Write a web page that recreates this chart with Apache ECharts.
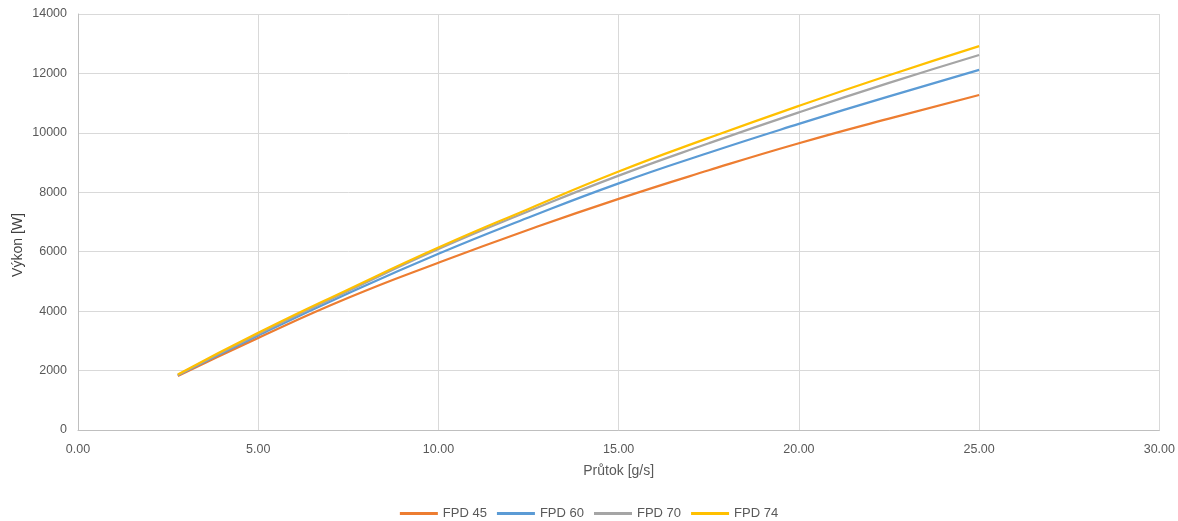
<!DOCTYPE html>
<html>
<head>
<meta charset="utf-8">
<script src="https://cdn.jsdelivr.net/npm/echarts@6/dist/echarts.min.js"></script>
<style>html,body{margin:0;padding:0;background:#fff;}#c{width:1178px;height:521px;}</style>
</head>
<body>
<div id="c"></div>
<script>
const flow = [2.77, 5, 7.5, 10, 12.5, 15, 17.5, 20, 22.5, 25];
const fpd45 = [1820, 3100, 4450, 5630, 6740, 7780, 8740, 9650, 10480, 11275];
const fpd60 = [1840, 3180, 4600, 5930, 7150, 8300, 9330, 10300, 11230, 12120];
const fpd70 = [1850, 3230, 4680, 6090, 7360, 8560, 9650, 10690, 11680, 12620];
const fpd74 = [1870, 3270, 4730, 6140, 7440, 8700, 9830, 10910, 11940, 12920];
const seriesNames = ['FPD 45', 'FPD 60', 'FPD 70', 'FPD 74'];
const seriesData = [fpd45, fpd60, fpd70, fpd74];
const colors = ['#ED7D31', '#5B9BD5', '#A5A5A5', '#FFC000'];

const font = 'Liberation Sans';
const chart = echarts.init(document.getElementById('c'), null, {renderer: 'canvas'});
chart.setOption({
  animation: false,
  color: colors,
  textStyle: {fontFamily: font},
  grid: {left: 78, right: 12, top: 14, bottom: 91, containLabel: false},
  legend: {
    bottom: -4, left: 'center',
    itemWidth: 38, itemHeight: 3, itemGap: 10,
    icon: 'rect',
    textStyle: {color: '#595959', fontSize: 13, fontFamily: font},
    data: seriesNames
  },
  xAxis: {
    type: 'value', min: 0, max: 30, interval: 5,
    name: 'Průtok [g/s]', nameLocation: 'middle', nameGap: 34,
    nameTextStyle: {color: '#595959', fontSize: 14, fontFamily: font},
    axisLine: {show: true, lineStyle: {color: '#bfbfbf'}},
    axisTick: {show: false},
    axisLabel: {color: '#595959', fontSize: 12.5, margin: 13, formatter: v => v.toFixed(2)},
    splitLine: {show: true, lineStyle: {color: '#d9d9d9'}}
  },
  yAxis: {
    type: 'value', min: 0, max: 14000, interval: 2000,
    axisLine: {show: true, lineStyle: {color: '#bfbfbf'}},
    axisTick: {show: false},
    axisLabel: {color: '#595959', fontSize: 12.5, margin: 11, formatter: v => String(v)},
    splitLine: {show: true, lineStyle: {color: '#d9d9d9'}}
  },
  graphic: [{
    type: 'text', rotation: Math.PI / 2,
    x: 18, y: 245,
    style: {text: 'Výkon [W]', fill: '#404040', font: '14px "Liberation Sans"', textAlign: 'center', textVerticalAlign: 'middle'}
  }],
  series: seriesNames.map((n, i) => ({
    name: n, type: 'line', smooth: true, symbol: 'none',
    lineStyle: {width: 2.25, color: colors[i]},
    data: flow.map((x, j) => [x, seriesData[i][j]])
  }))
});
</script>
</body>
</html>
